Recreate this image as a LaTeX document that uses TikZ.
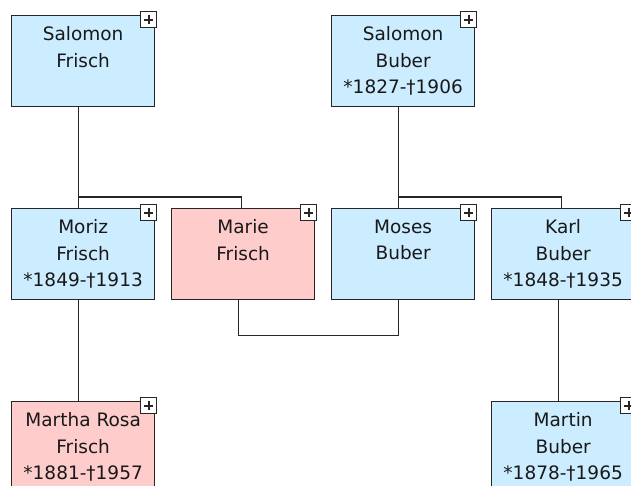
\documentclass[tikz,border=0pt]{standalone}
\usepackage{fontspec}
\setmainfont{DejaVu Sans}
\usepackage{xcolor}
\usepackage{tikz}
\usetikzlibrary{positioning}
\definecolor{boxblue}{RGB}{204,236,255}
\definecolor{boxpink}{RGB}{255,204,204}
\tikzset{
  person/.style={draw=black!85, line width=1.3pt, minimum width=143pt, minimum height=91pt, inner sep=0pt, anchor=north west},
  male/.style={person, fill=boxblue},
  female/.style={person, fill=boxpink},
  persontext/.style={anchor=north, align=center, inner sep=0pt, yshift=-11.5pt, text=black!90, font=\fontsize{18.5}{26.5}\selectfont},
  plusbox/.style={draw=black!85, line width=1.3pt, fill=white, minimum size=16pt, inner sep=0pt, anchor=north east,
    path picture={\draw[line width=1.8pt] ([xshift=-4.5pt]path picture bounding box.center) -- ([xshift=4.5pt]path picture bounding box.center);
      \draw[line width=1.8pt] ([yshift=-4.5pt]path picture bounding box.center) -- ([yshift=4.5pt]path picture bounding box.center);}},
  link/.style={draw=black!85, line width=1.3pt}
}
\begin{document}
\begin{tikzpicture}[x=1pt,y=-1pt]
\useasboundingbox (0,0) rectangle (631,485);
\clip (0,0) rectangle (631,485);
% first generation
\node[male] (sfrisch) at (11,15) {};
\node[persontext] (sfrischtext) at (sfrisch.north) {Salomon\\Frisch};
\node[male] (sbuber) at (331,15) {};
\node[persontext] (sbubertext) at (sbuber.north) {Salomon\\Buber\\*1827-†1906};
% second generation
\node[male] (moriz) at (11,208) {};
\node[persontext] (moriztext) at (moriz.north) {Moriz\\Frisch\\*1849-†1913};
\node[female] (marie) at (171,208) {};
\node[persontext] (marietext) at (marie.north) {Marie\\Frisch};
\node[male] (moses) at (331,208) {};
\node[persontext] (mosestext) at (moses.north) {Moses\\Buber};
\node[male] (karl) at (491,208) {};
\node[persontext] (karltext) at (karl.north) {Karl\\Buber\\*1848-†1935};
% third generation
\node[female] (martha) at (11,401) {};
\node[persontext] (marthatext) at (martha.north) {Martha Rosa\\Frisch\\*1881-†1957};
\node[male] (martin) at (491,401) {};
\node[persontext] (martintext) at (martin.north) {Martin\\Buber\\*1878-†1965};
% expand buttons
\node[plusbox] (sfrischplus) at ([xshift=2pt,yshift=4pt]sfrisch.north east) {};
\node[plusbox] (sbuberplus) at ([xshift=2pt,yshift=4pt]sbuber.north east) {};
\node[plusbox] (morizplus) at ([xshift=2pt,yshift=4pt]moriz.north east) {};
\node[plusbox] (marieplus) at ([xshift=2pt,yshift=4pt]marie.north east) {};
\node[plusbox] (mosesplus) at ([xshift=2pt,yshift=4pt]moses.north east) {};
\node[plusbox] (karlplus) at ([xshift=2pt,yshift=4pt]karl.north east) {};
\node[plusbox] (marthaplus) at ([xshift=2pt,yshift=4pt]martha.north east) {};
\node[plusbox] (martinplus) at ([xshift=2pt,yshift=4pt]martin.north east) {};
% connectors
\draw[link] ([xshift=-4.5pt]sfrisch.south) -- ([xshift=-4.5pt]moriz.north);
\draw[link] ([xshift=-4.5pt]moriz.north) -- ++(0,-11) -| ([xshift=-1.5pt]marie.north);
\draw[link] ([xshift=-4.5pt]sbuber.south) -- ([xshift=-4.5pt]moses.north);
\draw[link] ([xshift=-4.5pt]moses.north) -- ++(0,-11) -| ([xshift=-1.5pt]karl.north);
\draw[link] ([xshift=-4.5pt]marie.south) -- ++(0,35) -| ([xshift=-4.5pt]moses.south);
\draw[link] ([xshift=-4.5pt]moriz.south) -- ([xshift=-4.5pt]martha.north);
\draw[link] ([xshift=-4.5pt]karl.south) -- ([xshift=-4.5pt]martin.north);
\end{tikzpicture}
\end{document}
